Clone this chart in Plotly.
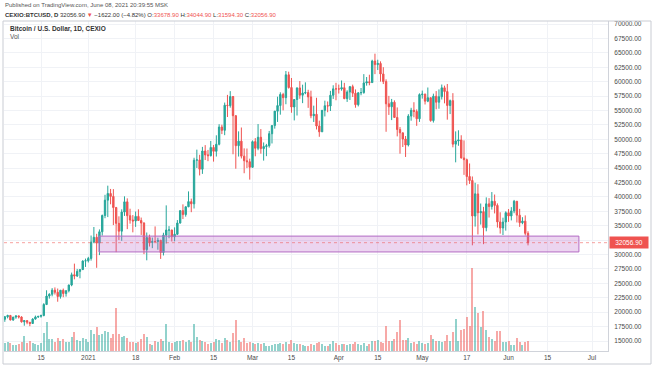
import pandas as pd
import plotly.graph_objects as go

# ---------------- data (CEXIO:BTCUSD, daily) ----------------
dates = pd.date_range("2020-12-02", "2021-06-08", freq="D").strftime("%Y-%m-%d").tolist()

open_ = [
    # Dec 2-31
    18764, 19205, 19422, 18650, 19148, 19359, 19166, 18324, 18541, 18254,
    18036, 18808, 19175, 19273, 19426, 21335, 22797, 23107, 23821, 23455,
    22719, 23810, 23232, 23729, 24712, 26493, 26281, 27079, 27385, 28875,
    # Jan
    28923, 29331, 32176, 33000, 31989, 33950, 36769, 39432, 40586, 40088,
    38150, 35410, 34049, 37371, 39145, 36737, 35994, 35824, 36622, 35901,
    35468, 30852, 32950, 32078, 32259, 32251, 32464, 30362, 33368, 34246, 34262,
    # Feb
    33092, 33517, 35472, 37620, 36936, 38289, 39181, 38795, 46374, 46420,
    44807, 47969, 47298, 47156, 48580, 47911, 49133, 52117, 51552, 55907,
    55841, 57412, 54088, 48891, 49676, 47073, 46277, 46104,
    # Mar
    45134, 49595, 48436, 50349, 48374, 48746, 48882, 50959, 52376, 54874,
    55851, 57773, 57222, 61188, 58976, 55605, 56900, 58912, 57641, 58030,
    58100, 57351, 54083, 54342, 52303, 51293, 55026, 55817, 55777, 57635, 58746,
    # Apr
    58739, 58720, 58950, 57052, 58202, 59129, 57991, 56000, 58060, 58101,
    59775, 59965, 59836, 63576, 62959, 63159, 61334, 60007, 56150, 55633,
    56425, 53787, 51690, 51111, 50047, 49004, 54022, 55033, 54825, 53555,
    # May
    57714, 57828, 56610, 57213, 53241, 57473, 56428, 57380, 58929, 58280,
    55859, 56705, 49150, 49716, 49880, 46760, 46456, 43538, 42850, 36671,
    40526, 37253, 37449, 34655, 38796, 38324, 39241, 38530, 35661, 34605, 35642,
    # Jun 1-8
    37254, 36694, 37568, 39246, 36829, 35516, 35797, 33678.9,
]
high = [
    19342, 19566, 19527, 19177, 19420, 19420, 19294, 18639, 18557, 18292,
    18948, 19411, 19350, 19570, 21560, 23800, 23285, 24171, 24295, 24102,
    23837, 24100, 23794, 24789, 26867, 28422, 27500, 27410, 28996, 29300,
    29600, 33300, 34778, 33600, 34360, 36939, 40365, 41950, 41380, 41350,
    38264, 36628, 37850, 40100, 39747, 37950, 36852, 37469, 37850, 36415,
    35600, 33826, 33456, 32944, 34881, 32921, 32557, 33783, 38531, 34933, 34288,
    34717, 35984, 37662, 38708, 38310, 40955, 39700, 46794, 48200, 47310,
    48678, 48985, 48150, 49707, 49010, 50689, 52618, 52530, 56368, 57700,
    58352, 57508, 54183, 51374, 52041, 48424, 48395, 46638,
    49790, 50200, 52640, 51773, 49448, 49200, 51450, 52402, 54895, 57387,
    58150, 58058, 61844, 61724, 60633, 56938, 58982, 60098, 59468, 59880,
    58589, 58430, 55830, 57200, 53230, 55073, 56700, 56559, 58400, 59368, 59800,
    59490, 60200, 59791, 58500, 59251, 59474, 58650, 58153, 58894, 61300,
    60800, 61200, 63800, 64854, 63800, 63520, 62506, 60400, 57526, 57000,
    56757, 55521, 52121, 51166, 50567, 54356, 55460, 56428, 55187, 57963,
    58448, 57911, 58981, 57216, 57911, 58360, 58650, 59500, 59300, 59592,
    56888, 58000, 51367, 51560, 50700, 49800, 46643, 45800, 43546, 42451,
    42200, 38856, 38270, 39920, 39791, 40841, 40411, 38877, 37338, 36400, 37500,
    37894, 38225, 39476, 39289, 37925, 36480, 36791, 34044.9,
]
low = [
    18330, 18925, 18565, 18500, 18857, 18902, 18200, 17650, 17911, 17572,
    18020, 18711, 19000, 19050, 19278, 21230, 22350, 22750, 23060, 21815,
    22353, 22600, 22703, 23433, 24500, 25700, 26101, 25880, 27320, 27850,
    28624, 28946, 31962, 27700, 29900, 33288, 36300, 36500, 38720, 35111,
    30420, 32531, 32380, 36701, 34408, 35357, 33850, 34800, 35844, 33400,
    30071, 29000, 31390, 31106, 32083, 30837, 29241, 29842, 31915, 32825, 32270,
    32296, 33418, 35362, 36161, 36570, 38215, 37351, 37988, 45020, 43727,
    43994, 46400, 46202, 47014, 46125, 47003, 48947, 50901, 50710, 53863,
    55477, 47400, 44892, 47003, 46674, 44106, 45000, 43000,
    45115, 47047, 48100, 47500, 46300, 47070, 48550, 49274, 51845, 53005,
    54269, 55013, 56078, 58800, 54600, 53271, 54123, 57023, 56270, 57820,
    55450, 53650, 53000, 51700, 50427, 51283, 53962, 54691, 54900, 57000, 56769,
    57935, 58428, 56956, 56478, 56817, 57333, 55473, 55700, 57630, 57905,
    59300, 59369, 59800, 61301, 62020, 60000, 59580, 51300, 54221, 53329,
    53695, 50500, 47500, 48657, 46930, 48752, 53222, 53813, 52330, 53013,
    57053, 56035, 56435, 53046, 52901, 55200, 55300, 56900, 56235, 53400,
    54370, 48600, 46000, 48870, 46650, 43825, 42001, 42250, 31600, 34850,
    33488, 35200, 31800, 34031, 36419, 37800, 37134, 34684, 33632, 33380, 34153,
    35666, 35920, 37170, 35567, 34800, 35258, 33300, 31594.3,
]
close = [
    19205, 19422, 18650, 19148, 19359, 19166, 18324, 18541, 18254, 18036,
    18808, 19175, 19273, 19426, 21335, 22797, 23107, 23821, 23455, 22719,
    23810, 23232, 23729, 24712, 26493, 26281, 27079, 27385, 28875, 28923,
    29331, 32176, 33000, 31989, 33950, 36769, 39432, 40586, 40088, 38150,
    35410, 34049, 37371, 39145, 36737, 35994, 35824, 36622, 35901, 35468,
    30852, 32950, 32078, 32259, 32251, 32464, 30362, 33368, 34246, 34262, 33092,
    33526, 35466, 37618, 36936, 38290, 39186, 38795, 46374, 46420, 44807,
    47969, 47287, 47153, 48577, 47911, 49133, 52119, 51552, 55906, 55841,
    57408, 54087, 48891, 49676, 47073, 46276, 46106, 45135,
    49587, 48440, 50349, 48374, 48751, 48882, 50971, 52375, 54884, 55851,
    57773, 57221, 61188, 58968, 55605, 56900, 58912, 57648, 58030, 58102,
    57351, 54083, 54340, 52303, 51293, 55025, 55817, 55777, 57635, 58746, 58740,
    58720, 58950, 57051, 58202, 59129, 57992, 56000, 58060, 58102, 59774,
    59965, 59835, 63576, 62959, 63160, 61334, 60006, 56150, 55633, 56425,
    53787, 51691, 51125, 50047, 49004, 54021, 55034, 54824, 53555, 57750,
    57828, 56610, 57213, 53241, 57473, 56429, 57380, 58928, 58280, 55859,
    56704, 49150, 49716, 49880, 46760, 46456, 43538, 42849, 36691, 40527,
    37252, 37449, 34655, 38796, 38324, 39241, 38529, 35663, 34606, 35641, 37254,
    36694, 37568, 39246, 36829, 35513, 35796, 33678.9, 32056.9,
]
volume = [
    8, 9, 8, 6, 6, 7, 9, 15, 8, 10, 8, 7, 6, 8, 18, 29, 12, 12, 9, 13,
    10, 12, 9, 9, 14, 19, 11, 10, 13, 12,
    9, 21, 17, 24, 16, 17, 20, 19, 13, 17, 43, 17, 14, 15, 13, 9, 9, 8, 9, 12,
    17, 14, 7, 6, 10, 9, 12, 10, 27, 9, 8,
    9, 10, 10, 11, 9, 11, 9, 27, 14, 11, 10, 9, 7, 8, 9, 12, 11, 8, 13, 11,
    9, 18, 31, 11, 9, 13, 8, 9,
    8, 7, 8, 7, 8, 5, 5, 6, 7, 7, 8, 7, 9, 7, 11, 8, 7, 7, 6, 5,
    5, 7, 6, 8, 9, 7, 5, 5, 7, 10, 8,
    6, 7, 7, 6, 7, 7, 9, 7, 6, 8, 5, 7, 10, 10, 11, 9, 8, 25, 10, 10,
    12, 19, 31, 11, 11, 13, 8, 9, 7, 10,
    8, 7, 8, 16, 12, 10, 10, 9, 10, 16, 10, 19, 32, 10, 21, 22, 34, 25, 83, 44,
    38, 24, 40, 21, 14, 12, 10, 20, 20, 9, 9,
    10, 6, 6, 13, 9, 6, 9, 10,
]

y_ticks = list(range(15000, 70001, 2500))
# 32500 sits under the last-price marker, so its label is hidden
y_labels = ["" if v == 32500 else f"{v:.2f}" for v in y_ticks]
x_ticks = ["2020-12-15", "2021-01-01", "2021-01-18", "2021-02-01", "2021-02-15",
           "2021-03-01", "2021-03-15", "2021-04-01", "2021-04-15", "2021-05-01",
           "2021-05-17", "2021-06-01", "2021-06-15", "2021-07-01"]
x_labels = ["15", "2021", "18", "Feb", "15", "Mar", "15", "Apr", "15", "May",
            "17", "Jun", "15", "Jul"]
zone_x = ["2021-01-04 20:00", "2021-06-26 07:00"]
zone_y = [30450, 33200]
last_price = 32056.9

# ---------------- styling / layout ----------------
UP = "#26a69a"
DOWN = "#ef5350"
W, H = 654, 366
L, R, T, B = 4, 608, 21, 351  # plot area in pixels


def px(x):
    return (x - L) / (R - L)


def py(y):
    return (B - y) / (B - T)


vol_colors = ["rgba(38,166,154,0.5)" if c >= o else "rgba(239,83,80,0.5)"
              for o, c in zip(open_, close)]

fig = go.Figure()
fig.add_trace(go.Bar(
    x=dates, y=volume, yaxis="y2", marker=dict(color=vol_colors, line_width=0),
    width=0.72 * 86400000, hoverinfo="skip", showlegend=False))
fig.add_trace(go.Candlestick(
    x=dates, open=open_, high=high, low=low, close=close,
    increasing=dict(line=dict(color=UP, width=1), fillcolor=UP),
    decreasing=dict(line=dict(color=DOWN, width=1), fillcolor=DOWN),
    whiskerwidth=0, showlegend=False))

FONT = "Liberation Sans, Arial, sans-serif"
fig.update_layout(
    width=W, height=H,
    margin=dict(l=L, r=W - R, t=T, b=H - B, pad=0),
    paper_bgcolor="white", plot_bgcolor="white",
    font=dict(family=FONT, size=7, color="#4a4a4a"),
    showlegend=False, hovermode=False, bargap=0,
    xaxis=dict(
        type="date", range=["2020-12-01 16:55", "2021-07-06 17:45"],
        rangeslider=dict(visible=False),
        tickvals=x_ticks, ticktext=x_labels, tickangle=0,
        tickfont=dict(size=6.5, color="#4a4a4a"),
        showgrid=True, gridcolor="#f0f2f6", gridwidth=1,
        ticks="", showline=True, linecolor="#d0d3da", linewidth=1,
        zeroline=False, fixedrange=True),
    yaxis=dict(
        side="right", range=[13265, 70520], tickvals=y_ticks, ticktext=y_labels,
        tickfont=dict(size=6.5, color="#4a4a4a"),
        showgrid=True, gridcolor="#f0f2f6", gridwidth=1,
        ticks="", ticklabelstandoff=4,
        showline=True, linecolor="#d0d3da", linewidth=1,
        zeroline=False, fixedrange=True),
    yaxis2=dict(overlaying="y", range=[0, B - T], visible=False, fixedrange=True),
)

# support zone rectangle
fig.add_shape(type="rect", xref="x", yref="y",
              x0=zone_x[0], x1=zone_x[1], y0=zone_y[0], y1=zone_y[1],
              fillcolor="rgba(186,104,200,0.28)",
              line=dict(color="#b36bc4", width=1), layer="above")
# last price line
fig.add_shape(type="line", xref="paper", yref="y", x0=0, x1=1,
              y0=last_price, y1=last_price,
              line=dict(color="rgba(239,83,80,0.55)", width=1, dash="dot"))
# outer frame
fig.add_shape(type="rect", xref="paper", yref="paper",
              x0=px(3), x1=px(651), y0=py(364), y1=py(T),
              line=dict(color="#c9ccd3", width=1), fillcolor="rgba(0,0,0,0)")

# last price label
fig.add_annotation(xref="paper", yref="y", x=px(609), y=last_price,
                   xanchor="left", yanchor="middle",
                   text=f"{last_price:.2f}", showarrow=False,
                   font=dict(size=6.5, color="white"),
                   bgcolor=DOWN, borderpad=2, width=34)

red = lambda s: f"<span style='color:{DOWN}'>{s}</span>"
fig.add_annotation(xref="paper", yref="paper", x=px(3), y=py(5),
                   xanchor="left", yanchor="middle", showarrow=False,
                   text="Published on TradingView.com, June 08, 2021 20:39:55 MSK",
                   font=dict(size=6, color="#555555"))
fig.add_annotation(xref="paper", yref="paper", x=px(3), y=py(15),
                   xanchor="left", yanchor="middle", showarrow=False,
                   text=("<b>CEXIO:BTCUSD, D</b> 32056.90 " + red("▼") +
                         " −1622.00 (−4.82%) O:" + red("33678.90") +
                         " H:" + red("34044.90") + " L:" + red("31594.30") +
                         " C:" + red("32056.90")),
                   font=dict(size=6, color="#333333"))
fig.add_annotation(xref="paper", yref="paper", x=px(8), y=py(29),
                   xanchor="left", yanchor="middle", showarrow=False,
                   text="<b>Bitcoin / U.S. Dollar, 1D, CEXIO</b>",
                   font=dict(size=6.5, color="#333333"))
fig.add_annotation(xref="paper", yref="paper", x=px(8), y=py(37),
                   xanchor="left", yanchor="middle", showarrow=False,
                   text="Vol", font=dict(size=6.5, color="#555555"))

fig.write_html("out.html", config=dict(displayModeBar=False, staticPlot=True))
